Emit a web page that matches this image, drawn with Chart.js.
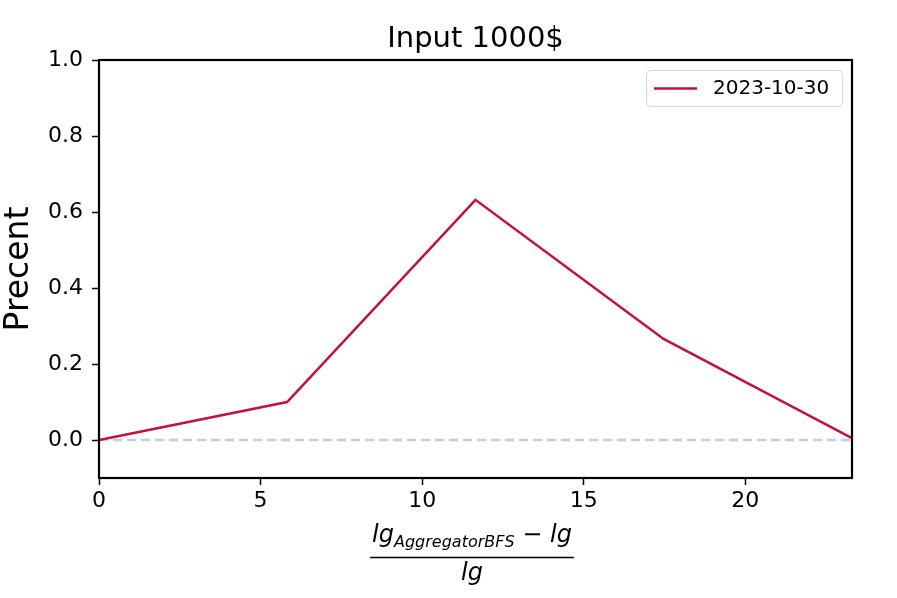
<!DOCTYPE html>
<html>
<head>
<meta charset="utf-8">
<script src="https://cdn.jsdelivr.net/npm/chart.js@4/dist/chart.umd.min.js"></script>
<style>
  html, body { margin: 0; padding: 0; background: #fff; }
  #wrap { width: 897px; height: 598px; }
</style>
</head>
<body>
<div id="wrap"><canvas id="chart" width="897" height="598"></canvas></div>
<script>
// ---- data ----
const ratioX = [0, 5.82, 11.65, 17.47, 23.3];
const precent = [0, 0.1, 0.632, 0.266, 0.005];
const xTicks = [0, 5, 10, 15, 20];
const yTicks = [0.0, 0.2, 0.4, 0.6, 0.8, 1.0];
const seriesLabel = '2023-10-30';
const chartTitle = 'Input 1000$';
const yTitle = 'Precent';

const FONT = '"DejaVu Sans", sans-serif';
const LINE_RED = '#c2103f';
const ZERO_BLUE = '#c3cbe6';

// frame, title, axis labels and legend, drawn matplotlib style
const decorations = {
  id: 'decorations',
  afterDraw(chart) {
    const ctx = chart.ctx;
    const a = chart.chartArea;
    ctx.save();

    // frame
    ctx.strokeStyle = '#000';
    ctx.lineWidth = 2.2;
    ctx.strokeRect(a.left, a.top, a.right - a.left, a.bottom - a.top);

    // title
    ctx.fillStyle = '#000';
    ctx.textAlign = 'center';
    ctx.textBaseline = 'alphabetic';
    ctx.font = '29px ' + FONT;
    ctx.fillText(chartTitle, (a.left + a.right) / 2, 47);

    // y label
    ctx.save();
    ctx.translate(28, (a.top + a.bottom) / 2);
    ctx.rotate(-Math.PI / 2);
    ctx.font = '33px ' + FONT;
    ctx.fillText(yTitle, 0, 0);
    ctx.restore();

    // x label: (lg_AggregatorBFS - lg) / lg
    const cx = 472;
    const big = 'italic 24px ' + FONT;
    const small = 'italic 16px ' + FONT;
    ctx.textAlign = 'left';
    ctx.font = big;
    const wLg = ctx.measureText('lg').width;
    ctx.font = small;
    const wSub = ctx.measureText('AggregatorBFS').width;
    ctx.font = '24px ' + FONT;
    const wMinus = ctx.measureText(' \u2212 ').width;
    ctx.font = big;
    const total = wLg + wSub + wMinus + wLg;
    let x0 = cx - total / 2;
    ctx.fillText('lg', x0, 542);
    ctx.font = small;
    ctx.fillText('AggregatorBFS', x0 + wLg, 547);
    ctx.font = '24px ' + FONT;
    ctx.fillText(' \u2212 ', x0 + wLg + wSub, 542);
    ctx.font = big;
    ctx.fillText('lg', x0 + wLg + wSub + wMinus, 542);
    ctx.lineWidth = 1.5;
    ctx.beginPath();
    ctx.moveTo(cx - total / 2 - 2, 557.5);
    ctx.lineTo(cx + total / 2 + 2, 557.5);
    ctx.stroke();
    ctx.textAlign = 'center';
    ctx.fillText('lg', cx, 580);

    // legend
    const lx = 646, ly = 70, lw = 196, lh = 36, r = 4;
    ctx.beginPath();
    ctx.roundRect(lx + 0.5, ly + 0.5, lw, lh, r);
    ctx.fillStyle = 'rgba(255,255,255,0.8)';
    ctx.fill();
    ctx.strokeStyle = '#d6d6d6';
    ctx.lineWidth = 1;
    ctx.stroke();
    ctx.strokeStyle = LINE_RED;
    ctx.lineWidth = 2.5;
    ctx.beginPath();
    ctx.moveTo(654, 88.5);
    ctx.lineTo(697, 88.5);
    ctx.stroke();
    ctx.fillStyle = '#000';
    ctx.textAlign = 'left';
    ctx.textBaseline = 'middle';
    ctx.font = '20px ' + FONT;
    ctx.fillText(seriesLabel, 713, 89);

    ctx.restore();
  }
};

new Chart(document.getElementById('chart'), {
  type: 'line',
  data: {
    datasets: [
      {
        label: seriesLabel,
        data: ratioX.map((x, i) => ({ x: x, y: precent[i] })),
        borderColor: LINE_RED,
        borderWidth: 2.5,
        pointRadius: 0,
        tension: 0,
        order: 0
      },
      {
        label: 'zero',
        data: [{ x: ratioX[0], y: 0 }, { x: ratioX[ratioX.length - 1], y: 0 }],
        borderColor: ZERO_BLUE,
        borderWidth: 2.5,
        borderDash: [9, 5],
        pointRadius: 0,
        order: 1
      }
    ]
  },
  options: {
    responsive: false,
    animation: false,
    layout: { padding: { top: 60, left: 0, right: 45, bottom: 0 } },
    plugins: {
      legend: { display: false },
      title: { display: false },
      tooltip: { enabled: false }
    },
    scales: {
      x: {
        type: 'linear',
        min: 0,
        max: 23.3,
        afterBuildTicks: s => { s.ticks = xTicks.map(v => ({ value: v })); },
        afterFit: s => { s.height = 120; },
        border: { display: false },
        grid: { drawOnChartArea: false, drawTicks: true, tickLength: 7, tickColor: '#000', tickWidth: 1.5 },
        ticks: { color: '#000', font: { family: FONT, size: 22 }, padding: 3, maxRotation: 0 }
      },
      y: {
        type: 'linear',
        min: -0.1,
        max: 1.0,
        afterBuildTicks: s => { s.ticks = yTicks.map(v => ({ value: v })); },
        afterFit: s => { s.width = 99; },
        border: { display: false },
        grid: { drawOnChartArea: false, drawTicks: true, tickLength: 7, tickColor: '#000', tickWidth: 1.5 },
        ticks: {
          color: '#000',
          font: { family: FONT, size: 22 },
          padding: 9,
          callback: v => Number(v).toFixed(1)
        }
      }
    }
  },
  plugins: [decorations]
});
</script>
</body>
</html>
